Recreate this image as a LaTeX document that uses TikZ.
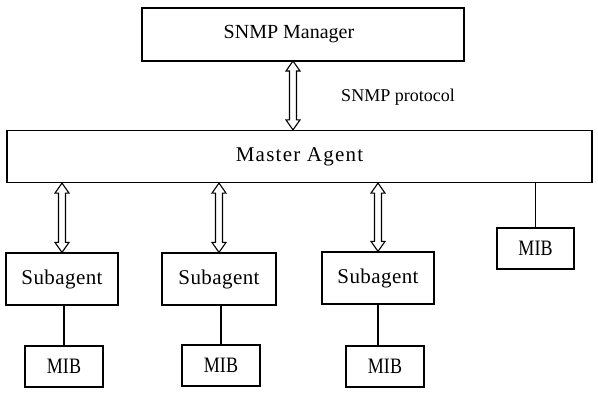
\documentclass[tikz,border=0pt]{standalone}
\usepackage{fontspec}
\setmainfont{Liberation Serif}
\newfontfamily\widef[LetterSpace=6]{Liberation Serif}
\newfontfamily\subf[LetterSpace=2]{Liberation Serif}
\newfontfamily\narrowf[FakeStretch=0.82]{Liberation Serif}
\usetikzlibrary{calc}
\tikzset{
  box/.style={draw, line width=1.2pt, inner sep=0pt, align=center},
  link/.style={line width=1.2pt},
  dblarrow/.style={line width=1.1pt, to path={let \p1=(\tikztostart), \p2=(\tikztotarget) in
    (\x1,\y1) -- (\x1+7pt,\y1-10pt) -- (\x1+3.5pt,\y1-10pt) -- (\x2+3.5pt,\y2+10pt) -- (\x2+7pt,\y2+10pt)
    -- (\x2,\y2) -- (\x2-7pt,\y2+10pt) -- (\x2-3.5pt,\y2+10pt) -- (\x1-3.5pt,\y1-10pt) -- (\x1-7pt,\y1-10pt) -- cycle}},
  mgrlbl/.style={font=\fontsize{20}{23}\selectfont},
  sublbl/.style={font=\subf\fontsize{21}{24}\selectfont},
  miblbl/.style={font=\narrowf\fontsize{22}{25}\selectfont}
}
\begin{document}
\begin{tikzpicture}[x=1pt,y=-1pt]
\useasboundingbox (0,0) rectangle (598,400);
\node[box, minimum width=322pt, minimum height=53pt] (mgr) at (303,34.5) {};
\node[mgrlbl] (mgrtext) at ([xshift=-14pt]mgr.center) {SNMP Manager};
\node[box, minimum width=585pt, minimum height=52pt, font=\widef\fontsize{21}{24}\selectfont] (master) at (299.5,156.5) {Master Agent};
\node[font=\fontsize{18}{21}\selectfont] (proto) at (398,97) {SNMP protocol};
\node[box, minimum width=112pt, minimum height=52pt, sublbl] (sub1) at (62,279) {Subagent};
\node[box, minimum width=114pt, minimum height=52pt, sublbl] (sub2) at (219,279) {Subagent};
\node[box, minimum width=112pt, minimum height=52pt, sublbl] (sub3) at (378,278) {Subagent};
\node[box, minimum width=78pt, minimum height=41pt, miblbl] (mib1) at (64,366.5) {MIB};
\node[box, minimum width=78pt, minimum height=41pt, miblbl] (mib2) at (221,365.5) {MIB};
\node[box, minimum width=78pt, minimum height=41pt, miblbl] (mib3) at (385,366.5) {MIB};
\node[box, minimum width=77pt, minimum height=41pt, miblbl] (mib4) at (535.5,248.5) {MIB};
\coordinate (a0) at (293,61);
\draw[dblarrow] (a0) to (a0 |- master.north);
\draw[dblarrow] (sub1.north |- master.south) to (sub1.north);
\draw[dblarrow] (sub2.north |- master.south) to (sub2.north);
\draw[dblarrow] (sub3.north |- master.south) to (sub3.north);
\draw[link] (sub1.south -| mib1.north) -- (mib1.north);
\draw[link] (sub2.south -| mib2.north) -- (mib2.north);
\draw[link] (sub3.south) -- (sub3.south |- mib3.north);
\draw[link] (mib4.north |- master.south) -- (mib4.north);
\end{tikzpicture}
\end{document}
